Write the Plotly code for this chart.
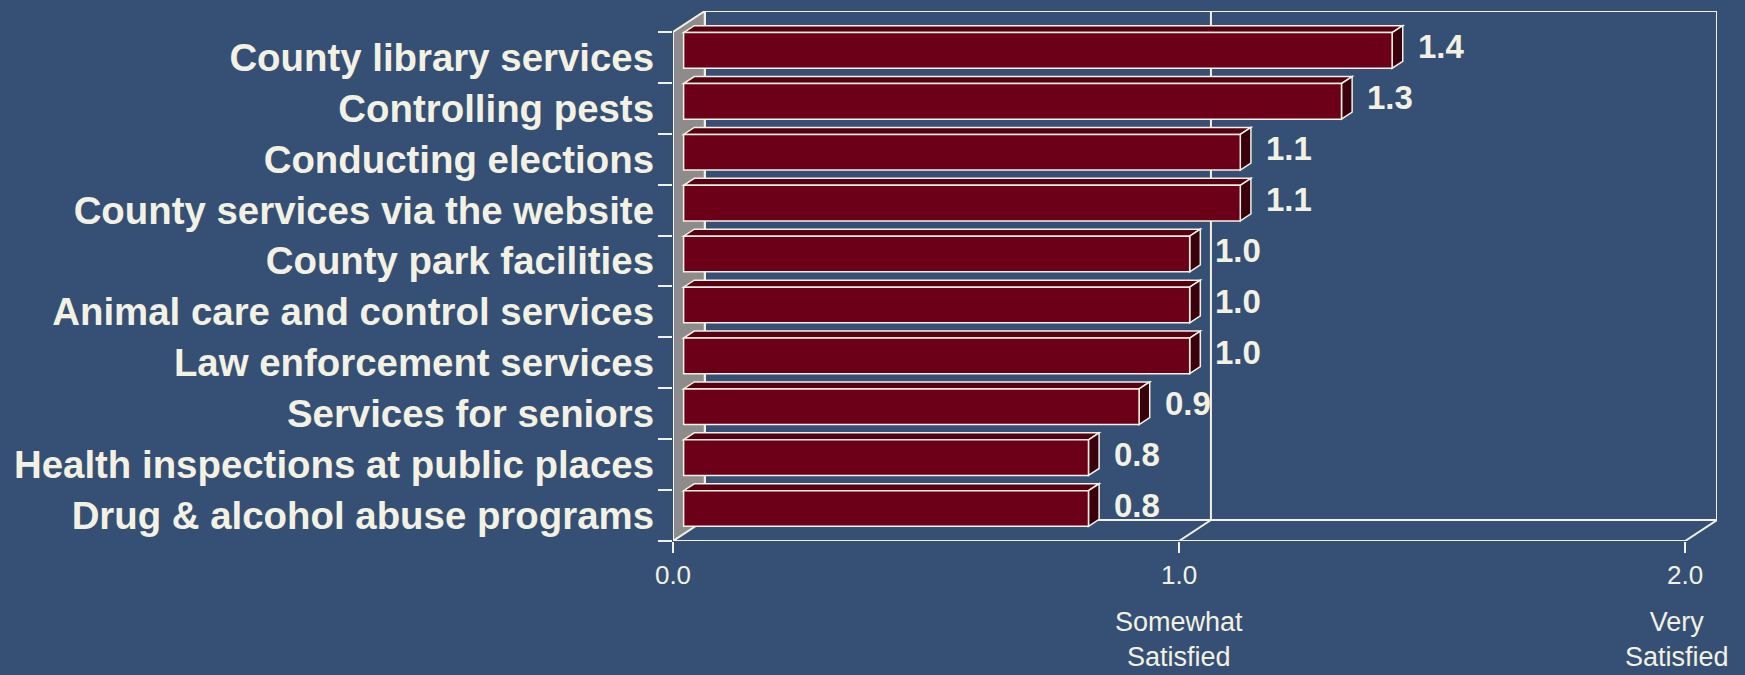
import plotly.graph_objects as go

# Satisfaction scores by county service (top to bottom)
categories = [
    "County library services",
    "Controlling pests",
    "Conducting elections",
    "County services via the website",
    "County park facilities",
    "Animal care and control services",
    "Law enforcement services",
    "Services for seniors",
    "Health inspections at public places",
    "Drug & alcohol abuse programs",
]
scores = [1.4, 1.3, 1.1, 1.1, 1.0, 1.0, 1.0, 0.9, 0.8, 0.8]

x_ticks = [0, 1, 2]
x_tick_labels = ["0.0", "1.0", "2.0"]
scale_names = ["", "Somewhat<br>Satisfied", "Very<br>Satisfied"]

# ---- styling / 3-D geometry -------------------------------------------
BG = "#355074"
INK = "#F3F1E3"
WALL = "#8C8C8C"
BAR_FRONT = "#6C0018"
BAR_TOP = "#560012"
BAR_SIDE = "#3A000B"
FONT = "Liberation Sans, Arial, sans-serif"

X_MAX = 2.0
DX = 0.063          # depth offset along x (data units)
DY = 0.412          # depth offset along y (category units)
BAR_H = 0.70
D_FRONT, D_BACK = 1 / 3, 2 / 3

n = len(categories)
ypos = [n - 1 - i for i in range(n)]
y_lo, y_hi = -0.5, n - 0.5


def poly(pts):
    return "M " + " L ".join(f"{x},{y}" for x, y in pts) + " Z"


shapes = []
line = dict(color=INK, width=2)

# left side wall
shapes.append(dict(type="path", xref="x", yref="y", layer="above",
                   path=poly([(0, y_lo), (0, y_hi), (DX, y_hi + DY), (DX, y_lo + DY)]),
                   fillcolor=WALL, line=line))
# back wall outline and its gridline
shapes.append(dict(type="rect", xref="x", yref="y", layer="above",
                   x0=DX, x1=X_MAX + DX, y0=y_lo + DY, y1=y_hi + DY,
                   line=line, fillcolor="rgba(0,0,0,0)"))
for xv in x_ticks[1:-1]:
    shapes.append(dict(type="line", xref="x", yref="y", layer="above",
                       x0=xv + DX, x1=xv + DX, y0=y_lo + DY, y1=y_hi + DY, line=line))
# floor edge and depth lines
shapes.append(dict(type="line", xref="x", yref="y", layer="above",
                   x0=0, x1=X_MAX, y0=y_lo, y1=y_lo, line=line))
for xv in x_ticks[1:]:
    shapes.append(dict(type="line", xref="x", yref="y", layer="above",
                       x0=xv, x1=xv + DX, y0=y_lo, y1=y_lo + DY, line=line))

# bars
bar_line = dict(color=INK, width=1.5)
annotations = []
for v, c in zip(scores, ypos):
    xf0, xf1 = D_FRONT * DX, v + D_FRONT * DX
    xb0, xb1 = D_BACK * DX, v + D_BACK * DX
    yf0, yf1 = c - BAR_H / 2 + D_FRONT * DY, c + BAR_H / 2 + D_FRONT * DY
    yb0, yb1 = c - BAR_H / 2 + D_BACK * DY, c + BAR_H / 2 + D_BACK * DY
    shapes.append(dict(type="path", xref="x", yref="y", layer="above",
                       path=poly([(xf0, yf1), (xf1, yf1), (xb1, yb1), (xb0, yb1)]),
                       fillcolor=BAR_TOP, line=bar_line))
    shapes.append(dict(type="path", xref="x", yref="y", layer="above",
                       path=poly([(xf1, yf0), (xf1, yf1), (xb1, yb1), (xb1, yb0)]),
                       fillcolor=BAR_SIDE, line=bar_line))
    shapes.append(dict(type="path", xref="x", yref="y", layer="above",
                       path=poly([(xf0, yf0), (xf1, yf0), (xf1, yf1), (xf0, yf1)]),
                       fillcolor=BAR_FRONT, line=bar_line))
    annotations.append(dict(x=xb1, y=c + DY / 2, xref="x", yref="y",
                            text=f"{v:.1f}", showarrow=False, xanchor="left",
                            yanchor="middle", xshift=13,
                            font=dict(family=FONT, size=33, color=INK, weight=700)))

# scale descriptions under the x ticks
for xv, name in zip(x_ticks, scale_names):
    if name:
        annotations.append(dict(x=xv, y=0, xref="x", yref="paper", text=name,
                                showarrow=False, xanchor="center", yanchor="top",
                                yshift=-64, xshift=-8 if xv == X_MAX else 0,
                                font=dict(family=FONT, size=27, color=INK)))

fig = go.Figure()
# invisible trace so the axes are created
fig.add_trace(go.Scatter(x=[0, X_MAX], y=[y_lo, y_hi], mode="markers",
                         marker=dict(opacity=0), hoverinfo="skip", showlegend=False))

fig.update_layout(
    width=1745, height=675,
    margin=dict(l=673, r=28, t=11, b=134),
    paper_bgcolor=BG, plot_bgcolor=BG,
    shapes=shapes, annotations=annotations,
    showlegend=False,
    xaxis=dict(range=[0, X_MAX + DX], tickvals=x_ticks, ticktext=x_tick_labels,
               ticks="outside", ticklen=11, tickwidth=2, tickcolor=INK,
               showgrid=False, zeroline=False, showline=False,
               tickfont=dict(family=FONT, size=26, color=INK)),
    yaxis=dict(range=[y_lo, y_hi + DY], tickvals=ypos, ticktext=categories,
               ticks="", ticklabelstandoff=18,
               showgrid=False, zeroline=False, showline=False,
               tickfont=dict(family=FONT, size=38.4, color=INK, weight=700),
               minor=dict(tick0=-0.5, dtick=1, ticks="outside", ticklen=14,
                          tickwidth=2, tickcolor=INK, showgrid=False)),
)

fig.write_html("out.html")
